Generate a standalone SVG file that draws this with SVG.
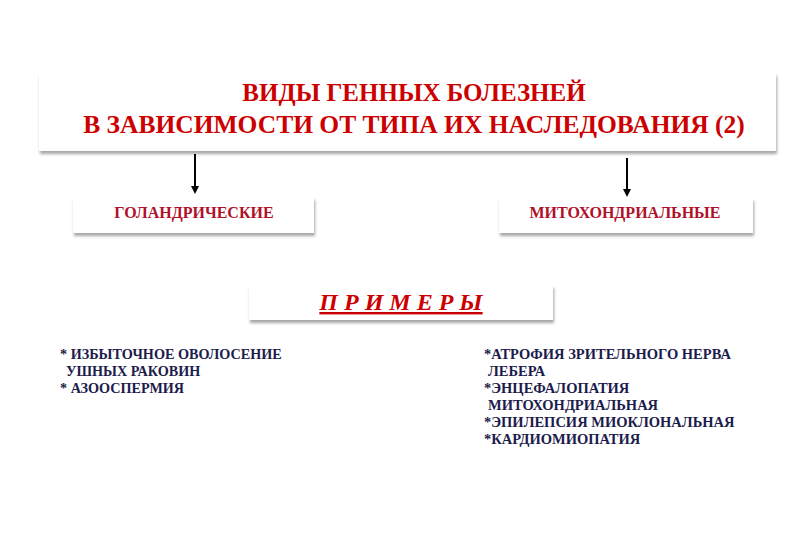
<svg xmlns="http://www.w3.org/2000/svg" width="810" height="540" viewBox="0 0 810 540">
<defs>
<filter id="sh" x="-5%" y="-20%" width="110%" height="150%">
<feDropShadow dx="1" dy="3" stdDeviation="1.5" flood-color="#000" flood-opacity="0.35"/>
</filter>
<marker id="ah" markerWidth="8" markerHeight="8" refX="4" refY="4" orient="auto" markerUnits="userSpaceOnUse">
<path d="M0,0 L8,4 L0,8 z" fill="#000"/>
</marker>
</defs>
<style>
.box{fill:#fff;filter:url(#sh)}
.conn{stroke:#000;stroke-width:2;fill:none}
</style>
<rect width="810" height="540" fill="#fff"/>
<g font-family="Liberation Serif, serif" font-weight="bold">
<g id="title">
<rect class="box" x="39" y="73" width="737" height="78"/>
<g fill="#cc0000" text-anchor="middle">
<text x="414" y="101" font-size="25">ВИДЫ  ГЕННЫХ  БОЛЕЗНЕЙ</text>
<text x="414" y="133" font-size="25.5">В  ЗАВИСИМОСТИ  ОТ  ТИПА  ИХ   НАСЛЕДОВАНИЯ (2)</text>
</g>
</g>
<g id="holandric">
<rect class="box" x="73" y="197" width="241" height="36"/>
<text x="194" y="218" font-size="16" fill="#b0102a" text-anchor="middle">ГОЛАНДРИЧЕСКИЕ</text>
</g>
<g id="mito">
<rect class="box" x="499" y="198" width="254" height="35"/>
<text x="625" y="218" font-size="16" fill="#b0102a" text-anchor="middle">МИТОХОНДРИАЛЬНЫЕ</text>
</g>
<g id="examples">
<rect class="box" x="249" y="285" width="304" height="35"/>
<text x="401" y="310" font-style="italic" font-size="24" fill="#cc0000" text-anchor="middle" text-decoration="underline">П Р И М Е Р Ы</text>
</g>
<g id="left-list" font-size="14.2" fill="#1c1c4c">
<text x="60" y="359">* ИЗБЫТОЧНОЕ  ОВОЛОСЕНИЕ</text>
<text x="66" y="376">УШНЫХ  РАКОВИН</text>
<text x="60" y="393">* АЗООСПЕРМИЯ</text>
</g>
<g id="right-list" font-size="14.5" fill="#1c1c4c">
<text x="484" y="359">*АТРОФИЯ ЗРИТЕЛЬНОГО НЕРВА</text>
<text x="488" y="376">ЛЕБЕРА</text>
<text x="484" y="393">*ЭНЦЕФАЛОПАТИЯ</text>
<text x="488" y="410">МИТОХОНДРИАЛЬНАЯ</text>
<text x="484" y="427">*ЭПИЛЕПСИЯ  МИОКЛОНАЛЬНАЯ</text>
<text x="484" y="444">*КАРДИОМИОПАТИЯ</text>
</g>
</g>
<g id="connectors">
<line class="conn" x1="195" y1="154" x2="195" y2="190" marker-end="url(#ah)"/>
<line class="conn" x1="627" y1="158" x2="627" y2="193" marker-end="url(#ah)"/>
</g>
</svg>
